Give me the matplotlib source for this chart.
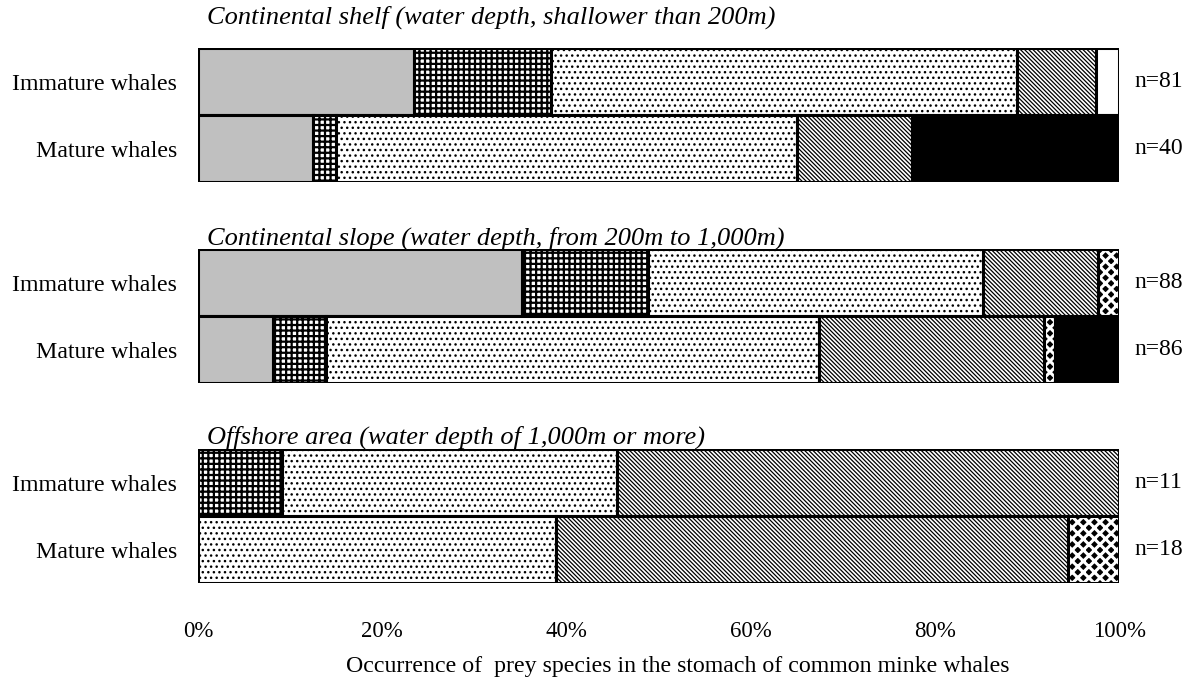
import matplotlib.pyplot as plt

plt.rcParams['font.family'] = ['Liberation Serif', 'DejaVu Serif']
plt.rcParams['hatch.linewidth'] = 0.9

groups = ['Immature whales', 'Mature whales']
panel_titles = ['Continental shelf (water depth, shallower than 200m)',
                'Continental slope (water depth, from 200m to 1,000m)',
                'Offshore area (water depth of 1,000m or more)']

# prey categories, in stacking order (% of stomachs)
gray_share = [[23.5, 12.5], [35.2, 8.1], [0.0, 0.0]]
grid_share = [[14.8, 2.5], [13.6, 5.8], [9.1, 0.0]]
dot_share = [[50.6, 50.0], [36.4, 53.5], [36.4, 38.9]]
hatch_share = [[8.6, 12.5], [12.5, 24.4], [54.5, 55.5]]
white_share = [[2.5, 0.0], [0.0, 0.0], [0.0, 0.0]]
diamond_share = [[0.0, 0.0], [2.3, 1.2], [0.0, 5.6]]
black_share = [[0.0, 22.5], [0.0, 7.0], [0.0, 0.0]]
n_labels = [['n=81', 'n=40'], ['n=88', 'n=86'], ['n=11', 'n=18']]
pct_ticks = [0, 20, 40, 60, 80, 100]

# (values, face colour, hatch colour, hatch, hatch line width)
cats = [(gray_share, '#c0c0c0', 'black', None, 1.0),
        (grid_share, 'white', 'black', '+++', 1.6),
        (dot_share, 'white', 'black', '...', 1.0),
        (hatch_share, 'white', 'black', '\\' * 8, 0.9),
        (white_share, 'white', 'black', None, 1.0),
        (diamond_share, 'black', 'white', 'xxx', 2.2),
        (black_share, 'black', 'black', None, 1.0)]

fig = plt.figure(figsize=(11.92, 6.79), dpi=100)
bottoms = [0.732, 0.436, 0.141]
title_y = [1.96, 1.66, 1.68]
for p in range(3):
    ax = fig.add_axes([0.166, bottoms[p], 0.773, 0.197])
    ypos = [1, 0]
    left = [0.0, 0.0]
    for vals, fc, hc, hatch, hlw in cats:
        w = vals[p]
        for i in range(2):
            if w[i] <= 0:
                continue
            # hatch takes the edge colour, so fill first and outline after
            bars = ax.barh(ypos[i], w[i], left=left[i], height=1.0, color=fc,
                           hatch=hatch, edgecolor=hc, linewidth=0)
            if hatch:
                bars[0].set_hatch_linewidth(hlw)
            ax.barh(ypos[i], w[i], left=left[i], height=1.0, fill=False,
                    edgecolor='black', linewidth=2.2)
            left[i] += w[i]
    ax.set_xlim(0, 100)
    ax.set_ylim(-0.5, 1.5)
    for s in ax.spines.values():
        s.set_visible(False)
    ax.set_yticks(ypos)
    ax.set_yticklabels(groups, fontsize=17.2)
    ax.tick_params(axis='y', length=0, pad=15)
    for i in range(2):
        ax.text(101.6, ypos[i], n_labels[p][i], va='center', ha='left', fontsize=17)
    ax.text(1.0, title_y[p], panel_titles[p], fontsize=19, style='italic',
            ha='left', va='center')
    if p < 2:
        ax.set_xticks([])
    else:
        ax.set_xticks(pct_ticks)
        ax.set_xticklabels([f'{t}%' for t in pct_ticks], fontsize=16.5)
        ax.tick_params(axis='x', length=0, pad=27)

fig.text(0.569, 0.019, 'Occurrence of  prey species in the stomach of common minke whales',
         fontsize=17.2, ha='center', va='center')

fig.savefig('out.png', dpi=100)
